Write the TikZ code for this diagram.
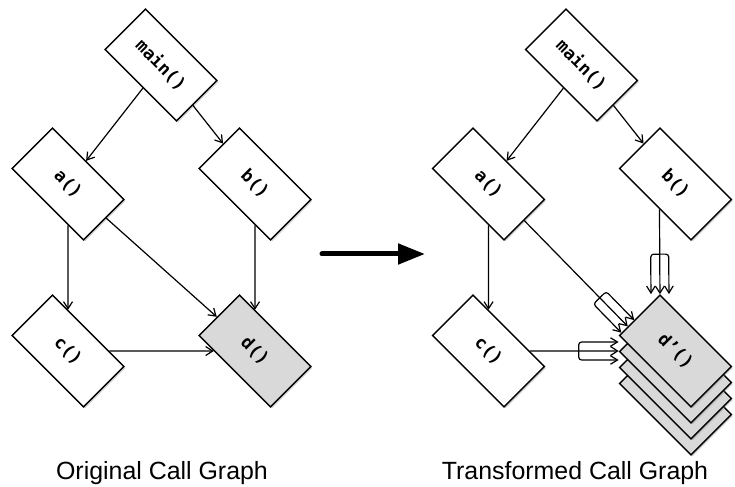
\documentclass[tikz,border=0pt]{standalone}
\usepackage{fontspec}
\setmainfont{Liberation Sans}
\newfontfamily\codefont{DejaVu Sans Mono}
\usetikzlibrary{arrows.meta,calc,shadows}

\tikzstyle{callbox} = [draw=black, fill=white, line width=1.4bp,
    rectangle, rotate=-45, minimum width=101bp, minimum height=57bp, inner sep=0pt,
    font=\codefont\bfseries\fontsize{17.5}{20}\selectfont,
    drop shadow={shadow xshift=1.5bp, shadow yshift=-1.5bp, opacity=.35}]
\tikzstyle{hotbox} = [callbox, fill=gray!30]
\tikzstyle{conn} = [line width=1.2bp, -{Straight Barb[length=7bp,width=9bp]}]
\tikzstyle{fork} = [line width=1.2bp, rounded corners=3bp,
    {Straight Barb[length=7bp,width=8.5bp]}-{Straight Barb[length=7bp,width=8.5bp]}]
\tikzstyle{caption} = [font=\fontsize{25}{30}\selectfont, anchor=base]

% three-way bracket round the end of a connector
\newcommand\triplefork[2]{%
  \coordinate (#1-back) at ($(#1)!40bp!(#2)$);
  \draw[fork] ($(#1)!9bp!90:(#2)$) -- ($(#1-back)!9bp!90:(#2)$)
    -- ($(#1-back)!9bp!-90:(#2)$) -- ($(#1)!9bp!-90:(#2)$);
}

\begin{document}
\begin{tikzpicture}[x=1bp, y=-1bp]
\useasboundingbox (0,0) rectangle (735,487);

% original graph
\node[callbox] (main) at (161,65) {main()};
\node[callbox] (a) at (68,184) {a()};
\node[callbox] (b) at (255,184) {b()};
\node[callbox] (c) at (68,351) {c()};
\node[hotbox] (d) at (255,351) {d()};

\draw[conn] (main) -- (a);
\draw[conn] (main) -- (b);
\draw[conn] (a) -- (c);
\draw[conn] (a) -- (d);
\draw[conn] (b) -- (d);
\draw[conn] (c) -- (d);

\node[caption] (orig) at (162,479) {Original Call Graph};

% big arrow
\coordinate (go-from) at (322,254);
\coordinate (go-to) at (425,254);
\draw[line width=5bp, line cap=round, -{Triangle[length=27bp,width=20bp]}] (go-from) -- (go-to);

% transformed graph
\node[callbox] (main2) at (581.5,65) {main()};
\node[callbox] (a2) at (488.5,184) {a()};
\node[callbox] (b2) at (675.5,184) {b()};
\node[callbox] (c2) at (488.5,351) {c()};
\node[hotbox] (d2-back3) at (675.5,399) {};
\node[hotbox] (d2-back2) at (675.5,383) {};
\node[hotbox] (d2-back1) at (675.5,367) {};
\node[hotbox] (d2) at (675.5,351) {d’()};

\draw[conn] (main2) -- (a2);
\draw[conn] (main2) -- (b2);
\draw[conn] (a2) -- (c2);

\coordinate (ad-to) at ($(d2.south west)!.22!(d2.north west)$);
\draw[conn] (a2) -- (ad-to);
\triplefork{ad-to}{a2}

\coordinate (cd-to) at (d2.south west |- c2);
\draw[conn] (c2) -- (cd-to);
\triplefork{cd-to}{c2}

\coordinate (bd-from) at ($(b2.south west)!.564!(b2.south east)$);
\coordinate (bd-to) at (d2.north west);
\draw[conn] (bd-from) -- (bd-to);
\triplefork{bd-to}{bd-from}

\node[caption] (trans) at (575,479) {Transformed Call Graph};
\end{tikzpicture}
\end{document}
